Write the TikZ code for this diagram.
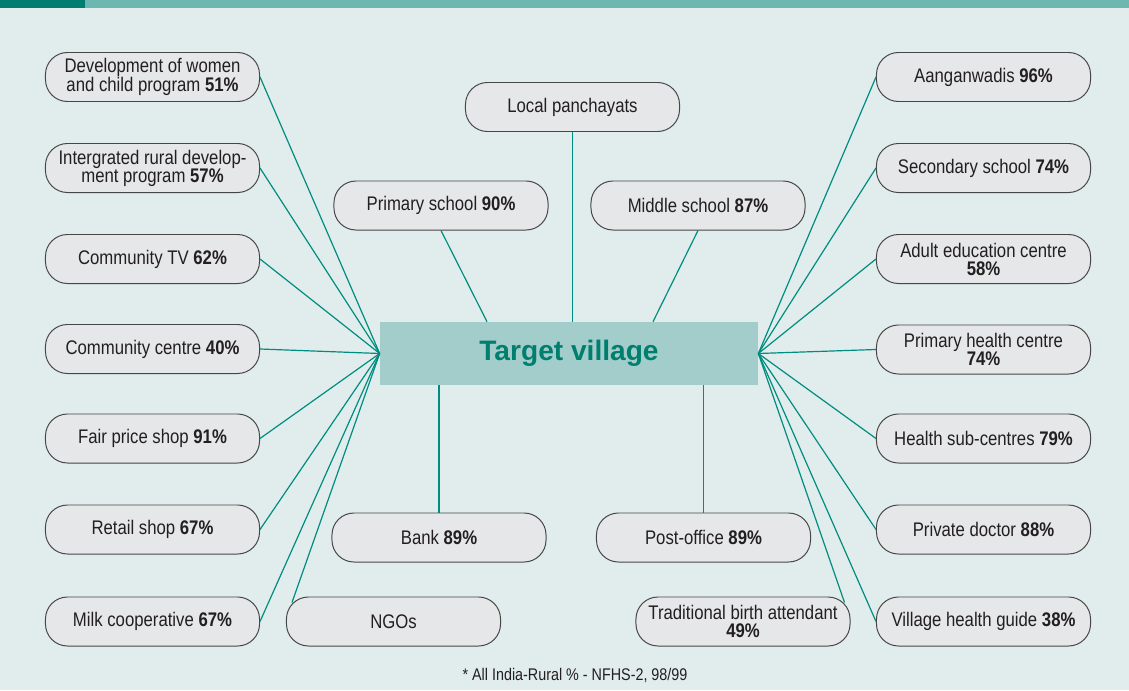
\documentclass[tikz,border=0pt]{standalone}
\usepackage{fontspec}
\setmainfont{Liberation Sans}[FakeStretch=0.85]
\newfontfamily\titlefont{Liberation Sans}
\usepackage{tikz}
\usetikzlibrary{calc}
\definecolor{pagebg}{RGB}{224,237,236}
\definecolor{bardark}{RGB}{0,125,113}
\definecolor{barlight}{RGB}{110,183,176}
\definecolor{boxfill}{RGB}{230,231,233}
\definecolor{boxline}{RGB}{70,70,70}
\definecolor{hubfill}{RGB}{163,205,203}
\definecolor{hubtext}{RGB}{0,126,110}
\definecolor{link}{RGB}{0,140,128}
\definecolor{txt}{RGB}{35,31,32}
\tikzset{
  facility/.style={draw=boxline, line width=0.7pt, fill=boxfill, rounded corners=0.55cm,
    minimum width=5.35cm, minimum height=1.225cm, inner sep=0pt, align=center,
    text=txt, font=\fontsize{14}{12.8}\selectfont},
  hub/.style={fill=hubfill, minimum width=9.45cm, minimum height=1.575cm, inner sep=0pt,
    text=hubtext, font=\titlefont\bfseries\fontsize{20}{24}\selectfont},
  spoke/.style={draw=link, line width=0.85pt}
}

\begin{document}
\begin{tikzpicture}[x=0.025cm, y=-0.025cm]
	\fill[pagebg] (0,0) rectangle (1129,690);
	\useasboundingbox (0,0) rectangle (1129,690);
	\fill[barlight] (85,0) rectangle (1129,8);
	\fill[bardark] (0,0) rectangle (85,8);

	\node[hub] (tv) at (569,353.5) {Target village};

	\node[facility] (dwcp) at (152.5,77) {Development of women\\and child program \textbf{51\%}};
	\node[facility] (irdp) at (152.5,168) {Intergrated rural develop-\\ment program \textbf{57\%}};
	\node[facility] (ctv) at (152.5,259) {Community TV \textbf{62\%}};
	\node[facility] (cc) at (152.5,349) {Community centre \textbf{40\%}};
	\node[facility] (fps) at (152.5,438.5) {Fair price shop \textbf{91\%}};
	\node[facility] (rs) at (152.5,529.5) {Retail shop \textbf{67\%}};
	\node[facility] (mc) at (152.5,621.5) {Milk cooperative \textbf{67\%}};

	\node[facility] (ngo) at (393.5,621.5) {NGOs};
	\node[facility] (bank) at (439,537.5) {Bank \textbf{89\%}};
	\node[facility] (ps) at (441,205.5) {Primary school \textbf{90\%}};
	\node[facility] (lp) at (572.5,107) {Local panchayats};
	\node[facility] (ms) at (698,205.5) {Middle school \textbf{87\%}};
	\node[facility] (po) at (703.5,537.5) {Post-office \textbf{89\%}};
	\node[facility] (tba) at (743,621.5) {Traditional birth attendant\\\textbf{49\%}};

	\node[facility] (aw) at (983.5,77) {Aanganwadis \textbf{96\%}};
	\node[facility] (ss) at (983.5,168) {Secondary school \textbf{74\%}};
	\node[facility] (aec) at (983.5,259) {Adult education centre\\\textbf{58\%}};
	\node[facility] (phc) at (983.5,349.5) {Primary health centre\\\textbf{74\%}};
	\node[facility] (hsc) at (983.5,438.5) {Health sub-centres \textbf{79\%}};
	\node[facility] (pd) at (983.5,529.5) {Private doctor \textbf{88\%}};
	\node[facility] (vhg) at (983.5,621.5) {Village health guide \textbf{38\%}};

	\foreach \n in {dwcp,irdp,ctv,cc,fps,rs,mc}
		\draw[spoke] (tv.west) -- (\n.east);
	\draw[spoke] (tv.west) -- ($(ngo.north west)+(6,6)$);
	\foreach \n in {aw,ss,aec,phc,hsc,pd,vhg}
		\draw[spoke] (tv.east) -- (\n.west);
	\draw[spoke] (tv.east) -- ($(tba.north east)+(-6,6)$);

	\draw[spoke] (ps.south) -- ($(tv.north)+(-82,0)$);
	\draw[spoke] (ms.south) -- ($(tv.north)+(84,0)$);
	\draw[spoke] (lp.south) -- (lp.south |- tv.north);
	\draw[spoke] (bank.north) -- (bank.north |- tv.south);
	\draw[spoke] (po.north) -- (po.north |- tv.south);

	\node[text=txt, font=\fontsize{12}{14}\selectfont] (note) at (575,675) {* All India-Rural \% - NFHS-2, 98/99};
\end{tikzpicture}
\end{document}
